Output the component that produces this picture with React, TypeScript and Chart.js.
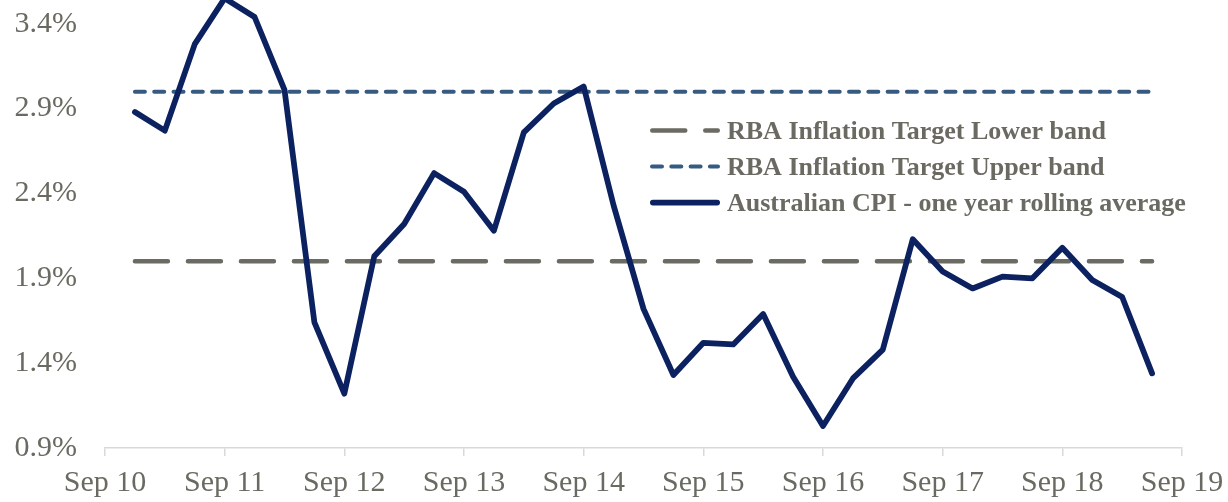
import React, { useEffect, useRef } from "react";
import { Chart, registerables } from "chart.js";

Chart.register(...registerables);

// Quarterly observations (Dec 10 .. Jun 19)
const quarterLabels = [
  "Dec 10",
  "Mar 11", "Jun 11", "Sep 11", "Dec 11",
  "Mar 12", "Jun 12", "Sep 12", "Dec 12",
  "Mar 13", "Jun 13", "Sep 13", "Dec 13",
  "Mar 14", "Jun 14", "Sep 14", "Dec 14",
  "Mar 15", "Jun 15", "Sep 15", "Dec 15",
  "Mar 16", "Jun 16", "Sep 16", "Dec 16",
  "Mar 17", "Jun 17", "Sep 17", "Dec 17",
  "Mar 18", "Jun 18", "Sep 18", "Dec 18",
  "Mar 19", "Jun 19",
];

const cpiRolling = [
  2.88,
  2.77, 3.28, 3.55, 3.44,
  3.01, 1.64, 1.22, 2.03,
  2.22, 2.52, 2.41, 2.18,
  2.76, 2.93, 3.03, 2.33,
  1.72, 1.33, 1.52, 1.51,
  1.69, 1.32, 1.03, 1.31,
  1.48, 2.13, 1.94, 1.84,
  1.91, 1.90, 2.08, 1.89,
  1.79, 1.34,
];

const lowerBand = [
  2.0,
  2.0, 2.0, 2.0, 2.0,
  2.0, 2.0, 2.0, 2.0,
  2.0, 2.0, 2.0, 2.0,
  2.0, 2.0, 2.0, 2.0,
  2.0, 2.0, 2.0, 2.0,
  2.0, 2.0, 2.0, 2.0,
  2.0, 2.0, 2.0, 2.0,
  2.0, 2.0, 2.0, 2.0,
  2.0, 2.0,
];

const upperBand = [
  3.0,
  3.0, 3.0, 3.0, 3.0,
  3.0, 3.0, 3.0, 3.0,
  3.0, 3.0, 3.0, 3.0,
  3.0, 3.0, 3.0, 3.0,
  3.0, 3.0, 3.0, 3.0,
  3.0, 3.0, 3.0, 3.0,
  3.0, 3.0, 3.0, 3.0,
  3.0, 3.0, 3.0, 3.0,
  3.0, 3.0,
];

const xTickLabels = [
  "Sep 10", "Sep 11", "Sep 12", "Sep 13", "Sep 14",
  "Sep 15", "Sep 16", "Sep 17", "Sep 18", "Sep 19",
];

const yTickValues = [0.9, 1.4, 1.9, 2.4, 2.9, 3.4];

const seriesNames = [
  "RBA Inflation Target Lower band",
  "RBA Inflation Target Upper band",
  "Australian CPI - one year rolling average",
];

const TEXT_COLOR = "#6a6a62";
const CPI_COLOR = "#0c2260";
const UPPER_COLOR = "#375a80";
const LOWER_COLOR = "#6b6a63";
const FONT = "'Liberation Serif', 'Times New Roman', serif";

const toPoints = (arr: number[]) => arr.map((v, i) => ({ x: i + 1, y: v }));

const legendPlugin = {
  id: "customLegend",
  afterDraw(chart: any) {
    const ctx = chart.ctx as CanvasRenderingContext2D;
    const x0 = 650;
    const lineLen = 70;
    const textX = 727;
    const rows = [130.5, 166.5, 202.5];
    const fontSize = 26;
    const order = [0, 1, 2];
    ctx.save();
    order.forEach((dsIndex, r) => {
      const ds = chart.data.datasets[dsIndex];
      const y = rows[r];
      ctx.beginPath();
      ctx.lineWidth = ds.borderWidth;
      ctx.strokeStyle = ds.borderColor;
      ctx.lineCap = ds.borderCapStyle || "butt";
      ctx.setLineDash(ds.borderDash || []);
      ctx.moveTo(x0 + ds.borderWidth / 2, y);
      ctx.lineTo(x0 + lineLen - ds.borderWidth / 2, y);
      ctx.stroke();
      ctx.setLineDash([]);
      ctx.fillStyle = TEXT_COLOR;
      ctx.font = `bold ${fontSize}px ${FONT}`;
      ctx.textBaseline = "alphabetic";
      ctx.textAlign = "left";
      ctx.fillText(ds.label, textX, y + 8);
    });
    ctx.restore();
  },
};

export default function App() {
  const canvasRef = useRef<HTMLCanvasElement | null>(null);

  useEffect(() => {
    const canvas = canvasRef.current;
    if (!canvas) return;
    const chart = new Chart(canvas, {
      type: "line",
      data: {
        datasets: [
          {
            label: seriesNames[0],
            data: toPoints(lowerBand),
            borderColor: LOWER_COLOR,
            borderWidth: 4.5,
            borderDash: [33, 20],
            borderCapStyle: "round",
            pointRadius: 0,
            fill: false,
            order: 3,
          },
          {
            label: seriesNames[1],
            data: toPoints(upperBand),
            borderColor: UPPER_COLOR,
            borderWidth: 4,
            borderDash: [10, 9.3],
            borderCapStyle: "round",
            pointRadius: 0,
            fill: false,
            order: 2,
          },
          {
            label: seriesNames[2],
            data: toPoints(cpiRolling),
            borderColor: CPI_COLOR,
            borderWidth: 5.75,
            borderCapStyle: "round",
            borderJoinStyle: "round",
            pointRadius: 0,
            fill: false,
            clip: false,
            order: 1,
          },
        ] as any,
      },
      options: {
        animation: false,
        responsive: true,
        maintainAspectRatio: false,
        layout: { padding: { left: 0, right: 46, top: 0, bottom: 0 } },
        plugins: {
          legend: { display: false },
          tooltip: { enabled: false },
        },
        scales: {
          x: {
            type: "linear",
            min: 0,
            max: 36,
            afterBuildTicks: (s: any) => {
              s.ticks = xTickLabels.map((_, i) => ({ value: i * 4 }));
            },
            afterFit: (s: any) => {
              s.height = 54;
              s.paddingLeft = 0;
              s.paddingRight = 0;
            },
            ticks: {
              autoSkip: false,
              maxRotation: 0,
              minRotation: 0,
              padding: 9,
              color: TEXT_COLOR,
              font: { family: FONT, size: 30 },
              callback: (v: any) => xTickLabels[Math.round(Number(v) / 4)],
            },
            grid: {
              display: true,
              drawOnChartArea: false,
              drawTicks: true,
              tickLength: 8,
              color: "#d9d9d9",
              lineWidth: 1.5,
            },
            border: { display: true, color: "#d9d9d9", width: 1.5 },
          },
          y: {
            type: "linear",
            min: 0.9,
            max: 3.54,
            afterBuildTicks: (s: any) => {
              s.ticks = yTickValues.map((v) => ({ value: v }));
            },
            afterFit: (s: any) => {
              s.width = 105;
              s.paddingTop = 0;
              s.paddingBottom = 0;
            },
            ticks: {
              padding: 28,
              color: TEXT_COLOR,
              font: { family: FONT, size: 30 },
              callback: (v: any) => Number(v).toFixed(1) + "%",
            },
            grid: { display: false, drawTicks: false },
            border: { display: false },
          },
        },
      } as any,
      plugins: [legendPlugin],
    });
    return () => chart.destroy();
  }, []);

  return (
    <div
      style={{
        position: "absolute",
        left: 0,
        top: 0,
        width: 1228,
        height: 502,
        background: "#ffffff",
      }}
    >
      <canvas ref={canvasRef} />
    </div>
  );
}
